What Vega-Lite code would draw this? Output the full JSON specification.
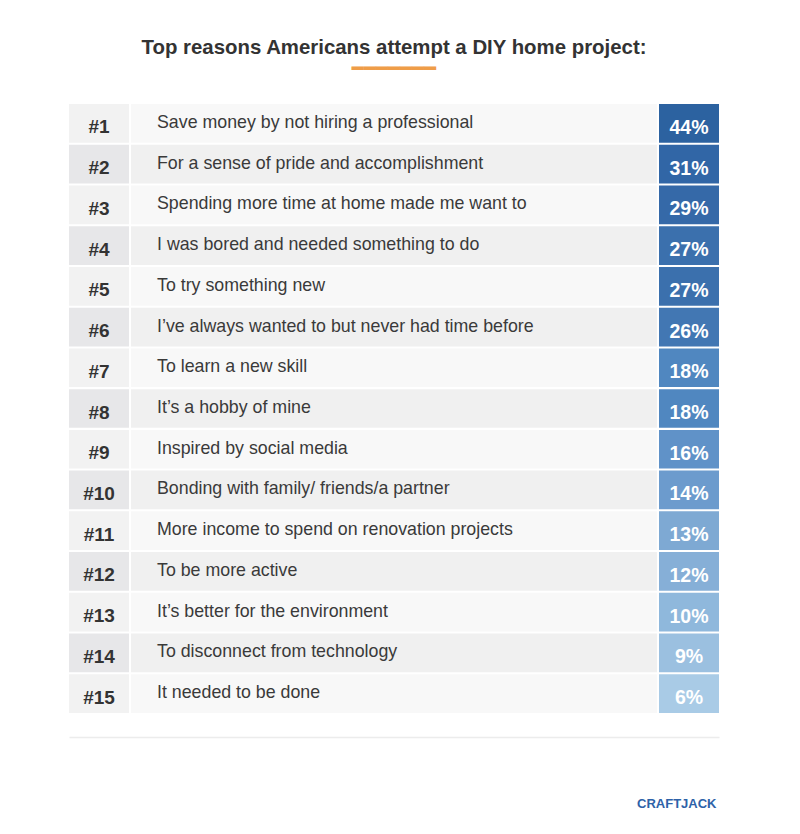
{
  "$schema": "https://vega.github.io/schema/vega-lite/v6.json",
  "autosize": "none",
  "width": 650,
  "height": 609,
  "padding": {"left": 69, "top": 104, "right": 81, "bottom": 121},
  "background": "white",
  "title": {
    "text": "Top reasons Americans attempt a DIY home project:",
    "subtitle": "━━━━━━━",
    "anchor": "middle",
    "font": "Liberation Sans",
    "fontSize": 20.4,
    "fontWeight": "bold",
    "color": "#333333",
    "subtitleFont": "DejaVu Sans Mono",
    "subtitleFontSize": 20,
    "subtitleColor": "#ef9d48",
    "subtitlePadding": 1,
    "offset": 25
  },
  "data": {
    "values": [
      {"rank": 1, "tag": "#1", "reason": "Save money by not hiring a professional", "share": 0.44},
      {"rank": 2, "tag": "#2", "reason": "For a sense of pride and accomplishment", "share": 0.31},
      {"rank": 3, "tag": "#3", "reason": "Spending more time at home made me want to", "share": 0.29},
      {"rank": 4, "tag": "#4", "reason": "I was bored and needed something to do", "share": 0.27},
      {"rank": 5, "tag": "#5", "reason": "To try something new", "share": 0.27},
      {"rank": 6, "tag": "#6", "reason": "I’ve always wanted to but never had time before", "share": 0.26},
      {"rank": 7, "tag": "#7", "reason": "To learn a new skill", "share": 0.18},
      {"rank": 8, "tag": "#8", "reason": "It’s a hobby of mine", "share": 0.18},
      {"rank": 9, "tag": "#9", "reason": "Inspired by social media", "share": 0.16},
      {"rank": 10, "tag": "#10", "reason": "Bonding with family/ friends/a partner", "share": 0.14},
      {"rank": 11, "tag": "#11", "reason": "More income to spend on renovation projects", "share": 0.13},
      {"rank": 12, "tag": "#12", "reason": "To be more active", "share": 0.12},
      {"rank": 13, "tag": "#13", "reason": "It’s better for the environment", "share": 0.10},
      {"rank": 14, "tag": "#14", "reason": "To disconnect from technology", "share": 0.09},
      {"rank": 15, "tag": "#15", "reason": "It needed to be done", "share": 0.06}
    ]
  },
  "encoding": {
    "y": {
      "field": "rank",
      "type": "ordinal",
      "sort": "ascending",
      "scale": {"paddingInner": 0.05, "paddingOuter": 0},
      "axis": null
    }
  },
  "layer": [
    {
      "mark": {"type": "rect"},
      "encoding": {
        "x": {"datum": 0, "type": "quantitative", "scale": {"domain": [0, 650], "nice": false, "zero": false},
          "axis": {"domain": true, "domainColor": "#ececec", "domainWidth": 1.5, "ticks": false, "labels": false, "grid": false, "offset": 24,
            "title": "CRAFTJACK", "titleFont": "Liberation Sans", "titleFontWeight": "bold", "titleFontSize": 13, "titleColor": "#2d62a8",
            "titleAnchor": "end", "titleAlign": "right", "titleX": 647, "titleY": 60}},
        "x2": {"datum": 60},
        "fill": {"condition": {"test": "datum.rank % 2 == 0", "value": "#e7e7e9"}, "value": "#f2f2f2"}
      }
    },
    {
      "mark": {"type": "rect"},
      "encoding": {
        "x": {"datum": 62, "type": "quantitative"},
        "x2": {"datum": 588},
        "fill": {"condition": {"test": "datum.rank % 2 == 0", "value": "#f0f0f0"}, "value": "#f8f8f8"}
      }
    },
    {
      "mark": {"type": "rect"},
      "encoding": {
        "x": {"datum": 590, "type": "quantitative"},
        "x2": {"datum": 650},
        "fill": {
          "field": "share",
          "type": "quantitative",
          "legend": null,
          "scale": {
            "domain": [0.06, 0.09, 0.10, 0.12, 0.13, 0.14, 0.16, 0.18, 0.26, 0.27, 0.29, 0.31, 0.44],
            "range": ["#a9cbe6", "#9bc0e0", "#8fb8dc", "#86afd7", "#7ea9d3", "#6c9bcd", "#6092c8", "#5087c0", "#4277b3", "#3b70ad", "#3569a8", "#3166a6", "#2c62a0"],
            "interpolate": "rgb"
          }
        }
      }
    },
    {
      "mark": {"type": "text", "font": "Liberation Sans", "fontSize": 19, "fontWeight": "bold", "color": "#333333", "align": "center", "baseline": "middle", "dy": 4},
      "encoding": {
        "x": {"datum": 30, "type": "quantitative"},
        "text": {"field": "tag"}
      }
    },
    {
      "mark": {"type": "text", "font": "Liberation Sans", "fontSize": 17.8, "color": "#3a3a3a", "align": "left", "baseline": "middle", "dy": -0.5},
      "encoding": {
        "x": {"datum": 88, "type": "quantitative"},
        "text": {"field": "reason"}
      }
    },
    {
      "mark": {"type": "text", "font": "Liberation Sans", "fontSize": 19.5, "fontWeight": "bold", "color": "white", "align": "center", "baseline": "middle", "dy": 4.5},
      "encoding": {
        "x": {"datum": 620, "type": "quantitative"},
        "text": {"field": "share", "format": ".0%"}
      }
    }
  ],
  "config": {"view": {"stroke": null}}
}
